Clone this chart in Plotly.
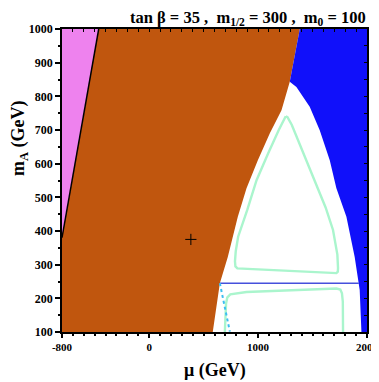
import plotly.graph_objects as go

# Ranh giới các vùng (mu, m_A)
pink_mu = [-800, -463, -800]
pink_mA = [380, 1000, 1000]

brown_mu = [-463, 1383, 1291, 1215, 1108, 998, 894, 814, 722, 649, 584, -800, -800]
brown_mA = [1000, 1000, 843, 759, 690, 610, 527, 442, 323, 245, 100, 100, 380]

blue_mu = [1383, 2000, 2000, 1949, 1933, 1887, 1811, 1719, 1658, 1566, 1474, 1352, 1291]
blue_mA = [1000, 1000, 100, 100, 225, 323, 442, 527, 610, 699, 769, 828, 843]

# đường đen giữa vùng hồng và nâu
edge_mu = [-800, -463]
edge_mA = [380, 1000]

# đường xanh lá (vòng trên)
loop_up_mu = [1254, 1190, 1092, 986, 900, 817, 795, 788, 792, 810, 1000, 1400, 1719, 1732, 1734, 1728, 1688, 1620, 1548, 1413, 1310, 1270, 1254]
loop_up_mA = [741, 700, 630, 551, 462, 383, 340, 310, 295, 289, 286, 280, 275, 279, 290, 330, 403, 470, 527, 630, 715, 738, 741]

# đường xanh lá (vòng dưới)
loop_lo_mu = [695, 700, 706, 718, 745, 894, 1300, 1719, 1755, 1770, 1778, 1780]
loop_lo_mA = [100, 150, 185, 203, 212, 219, 225, 229, 226, 215, 190, 100]

# đường ngang m_A = 245
hline_mu = [649, 1925]
hline_mA = [245, 245]

# đường chấm xanh nhạt
dot_mu = [649, 687, 725, 741]
dot_mA = [245, 185, 136, 101]

# điểm đánh dấu
mark_mu = [383]
mark_mA = [375]

x_ticks = [-800, 0, 1000, 2000]
y_ticks = [100, 200, 300, 400, 500, 600, 700, 800, 900, 1000]

FONT = 'Liberation Serif'


def main():
    fig = go.Figure()

    fig.add_trace(go.Scatter(x=pink_mu, y=pink_mA, fill='toself', mode='none',
                             fillcolor='rgb(238,130,238)', hoverinfo='skip'))
    fig.add_trace(go.Scatter(x=brown_mu, y=brown_mA, fill='toself', mode='none',
                             fillcolor='rgb(192,86,14)', hoverinfo='skip'))
    fig.add_trace(go.Scatter(x=blue_mu, y=blue_mA, fill='toself', mode='none',
                             fillcolor='rgb(16,16,250)', hoverinfo='skip'))

    fig.add_trace(go.Scatter(x=edge_mu, y=edge_mA, mode='lines',
                             line=dict(color='black', width=1.5)))
    green = dict(color='rgb(170,245,205)', width=2.4)
    fig.add_trace(go.Scatter(x=loop_up_mu, y=loop_up_mA, mode='lines', line=green))
    fig.add_trace(go.Scatter(x=loop_lo_mu, y=loop_lo_mA, mode='lines', line=green))
    fig.add_trace(go.Scatter(x=hline_mu, y=hline_mA, mode='lines',
                             line=dict(color='rgb(70,80,220)', width=1.5)))
    fig.add_trace(go.Scatter(x=dot_mu, y=dot_mA, mode='lines',
                             line=dict(color='rgb(60,190,240)', width=2, dash='dot')))
    fig.add_trace(go.Scatter(x=mark_mu, y=mark_mA, mode='markers',
                             marker=dict(symbol='cross-thin', size=8, line=dict(color='black', width=1))))

    # trục phụ để vẽ vạch chia hướng vào trong ở cạnh trên / phải
    fig.add_trace(go.Scatter(x=[None], y=[None], xaxis='x2', yaxis='y2'))

    # trang html có lề 8px nên dời lề hình đi 8px
    fig.update_layout(
        width=379, height=374, autosize=False,
        margin=dict(l=54, r=20, t=21, b=50, autoexpand=False),
        plot_bgcolor='white', paper_bgcolor='white',
        showlegend=False,
        xaxis=dict(range=[-800, 2000], tickmode='array', tickvals=x_ticks,
                   ticktext=['<b>%d</b>' % v for v in x_ticks], ticklabeloverflow='allow',
                   ticks='outside', ticklen=4, tickwidth=1.5, tickcolor='black',
                   minor=dict(tickmode='linear', tick0=-800, dtick=100, ticks='outside', ticklen=2,
                              tickcolor='black'),
                   showline=True, linecolor='black', linewidth=1.5, mirror=True, automargin=False,
                   showgrid=False, zeroline=False, tickfont=dict(family=FONT, size=11, color='black')),
        yaxis=dict(range=[100, 1000], tickmode='array', tickvals=y_ticks,
                   ticktext=['<b>%d</b>' % v for v in y_ticks], ticklabeloverflow='allow',
                   ticks='outside', ticklen=5, tickwidth=1.5, tickcolor='black',
                   minor=dict(tickmode='linear', tick0=50, dtick=100, ticks='outside', ticklen=2,
                              tickcolor='black'),
                   showline=True, linecolor='black', linewidth=1.5, mirror=True, automargin=False,
                   showgrid=False, zeroline=False, tickfont=dict(family=FONT, size=12, color='black')),
        xaxis2=dict(range=[-800, 2000], overlaying='x', side='top', tickmode='linear', tick0=-800,
                    dtick=100, ticks='inside', ticklen=3, tickcolor='black', showticklabels=False,
                    showgrid=False, zeroline=False, automargin=False),
        yaxis2=dict(range=[100, 1000], overlaying='y', side='right', tickmode='linear', tick0=100,
                    dtick=50, ticks='inside', ticklen=3, tickcolor='black', showticklabels=False,
                    showgrid=False, zeroline=False, automargin=False),
        annotations=[
            dict(text='<b>tan β = 35 ,  m<sub>1/2</sub> = 300 ,  m<sub>0</sub> = 100</b>',
                 xref='paper', yref='paper', x=1.0, y=1.0, xanchor='right', yanchor='bottom',
                 yshift=0, borderpad=0, showarrow=False, font=dict(family=FONT, size=16.5, color='black')),
            dict(text='<b>μ (GeV)</b>', xref='paper', yref='paper', x=0.5, y=0,
                 xanchor='center', yanchor='top', yshift=-26, showarrow=False,
                 font=dict(family=FONT, size=18, color='black')),
            dict(text='<b>m<sub>A</sub> (GeV)</b>', xref='paper', yref='paper', x=0, y=0.64,
                 xanchor='center', yanchor='middle', xshift=-43, textangle=-90, showarrow=False,
                 font=dict(family=FONT, size=18, color='black')),
        ],
    )

    fig.write_html("out.html")


if __name__ == '__main__':
    main()
